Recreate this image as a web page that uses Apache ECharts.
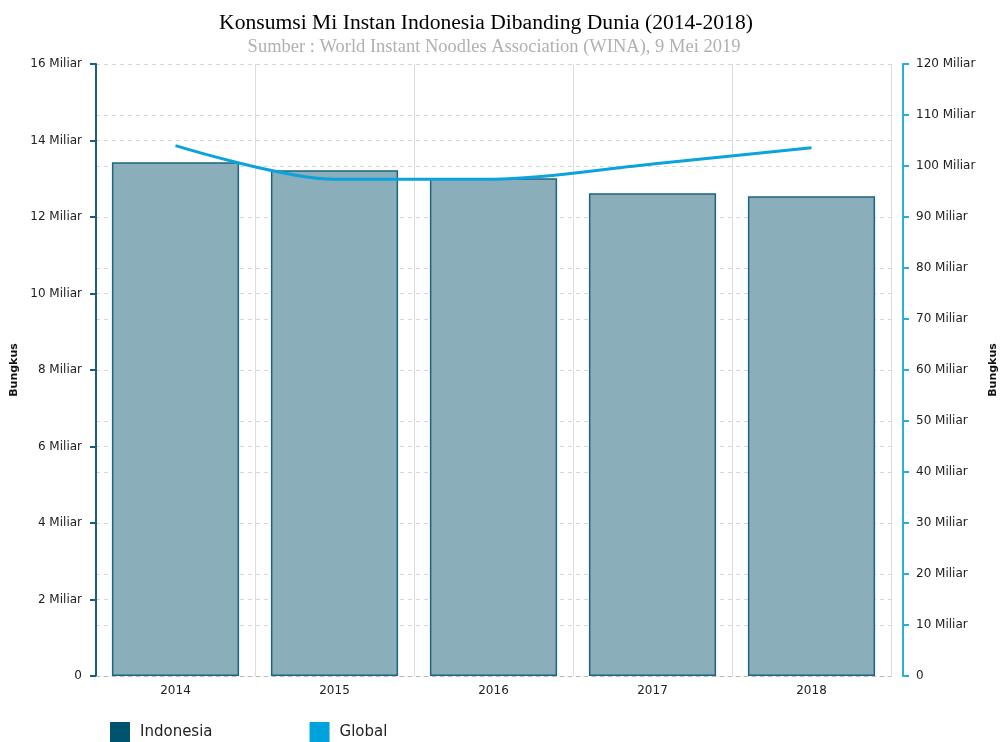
<!DOCTYPE html>
<html>
<head>
<meta charset="utf-8">
<script src="https://cdn.jsdelivr.net/npm/echarts@6/dist/echarts.min.js"></script>
<style>
  html, body { margin: 0; padding: 0; background: #fff; }
  #chart { width: 1001px; height: 742px; }
</style>
</head>
<body>
<div id="chart"></div>
<script>
// data
const years = ['2014', '2015', '2016', '2017', '2018']
const indonesia = [13.43, 13.22, 13.01, 12.62, 12.54]   // miliar bungkus
const global = [104.0, 97.4, 97.4, 100.4, 103.6]       // miliar bungkus

const chart = echarts.init(document.getElementById('chart'))

const tickFont = { fontFamily: 'DejaVu Sans', fontSize: 12, color: '#222' }
const fmt = v => (v === 0 ? '0' : v + ' Miliar')

const option = {
  animation: false,
  title: [
    {
      text: 'Konsumsi Mi Instan Indonesia Dibanding Dunia (2014-2018)',
      left: 481, top: 7, textAlign: 'center',
      textStyle: { fontFamily: 'Liberation Serif', fontSize: 21.6, fontWeight: 'normal', color: '#000' }
    },
    {
      text: 'Sumber : World Instant Noodles Association (WINA), 9 Mei 2019',
      left: 489, top: 33, textAlign: 'center',
      textStyle: { fontFamily: 'Liberation Serif', fontSize: 18.5, fontWeight: 'normal', color: '#b0b0b0' }
    }
  ],
  legend: {
    left: 110, top: 722, padding: 0,
    itemWidth: 20, itemHeight: 20, itemGap: 97,
    icon: 'rect',
    textStyle: { fontFamily: 'DejaVu Sans', fontSize: 15, color: '#222', padding: [0, 0, 0, 5] },
    data: [
      { name: 'Indonesia', itemStyle: { color: '#00536f', borderWidth: 0 } },
      { name: 'Global', itemStyle: { color: '#00a2dc' } }
    ]
  },
  grid: { left: 96, right: 110, top: 64, bottom: 66, outerBoundsMode: 'none' },
  xAxis: {
    type: 'category',
    data: years,
    axisLine: { show: true, lineStyle: { color: '#bbb', type: [4, 4], width: 1 } },
    axisTick: { show: false },
    axisLabel: Object.assign({ margin: 9 }, tickFont),
    splitLine: { show: true, lineStyle: { color: '#ddd', width: 1 } }
  },
  yAxis: [
    {
      type: 'value', min: 0, max: 16, interval: 2,
      name: 'Bungkus', nameLocation: 'middle', nameRotate: 90, nameGap: 73,
      nameTextStyle: { fontFamily: 'DejaVu Sans', fontSize: 11, fontWeight: 'bold', color: '#111' },
      axisLine: { show: true, lineStyle: { color: '#1b5e7a', width: 2 } },
      axisTick: { show: true, length: 6, lineStyle: { color: '#1b5e7a', width: 2 } },
      axisLabel: Object.assign({ formatter: fmt, margin: 14 }, tickFont),
      splitLine: { show: true, lineStyle: { color: '#d6d6d6', type: [4, 4] } }
    },
    {
      type: 'value', min: 0, max: 120, interval: 10,
      position: 'right', offset: 12,
      name: 'Bungkus', nameLocation: 'middle', nameRotate: 90, nameGap: 85,
      nameTextStyle: { fontFamily: 'DejaVu Sans', fontSize: 11, fontWeight: 'bold', color: '#111' },
      axisLine: { show: true, lineStyle: { color: '#29aee0', width: 2 } },
      axisTick: { show: true, length: 6, lineStyle: { color: '#29aee0', width: 2 } },
      axisLabel: Object.assign({ formatter: fmt, margin: 13 }, tickFont),
      splitLine: { show: true, lineStyle: { color: '#d6d6d6', type: [4, 4] } }
    }
  ],
  series: [
    {
      name: 'Indonesia',
      type: 'bar',
      yAxisIndex: 0,
      data: indonesia,
      barCategoryGap: '20%',
      itemStyle: { color: '#8aaeba', borderColor: '#1d6480', borderWidth: 1.5 }
    },
    {
      name: 'Global',
      type: 'line',
      yAxisIndex: 1,
      data: global,
      smooth: 0.3,
      symbol: 'none',
      lineStyle: { color: '#0aa3dc', width: 3 },
      itemStyle: { color: '#00a2dc' }
    }
  ]
}

chart.setOption(option)
</script>
</body>
</html>
